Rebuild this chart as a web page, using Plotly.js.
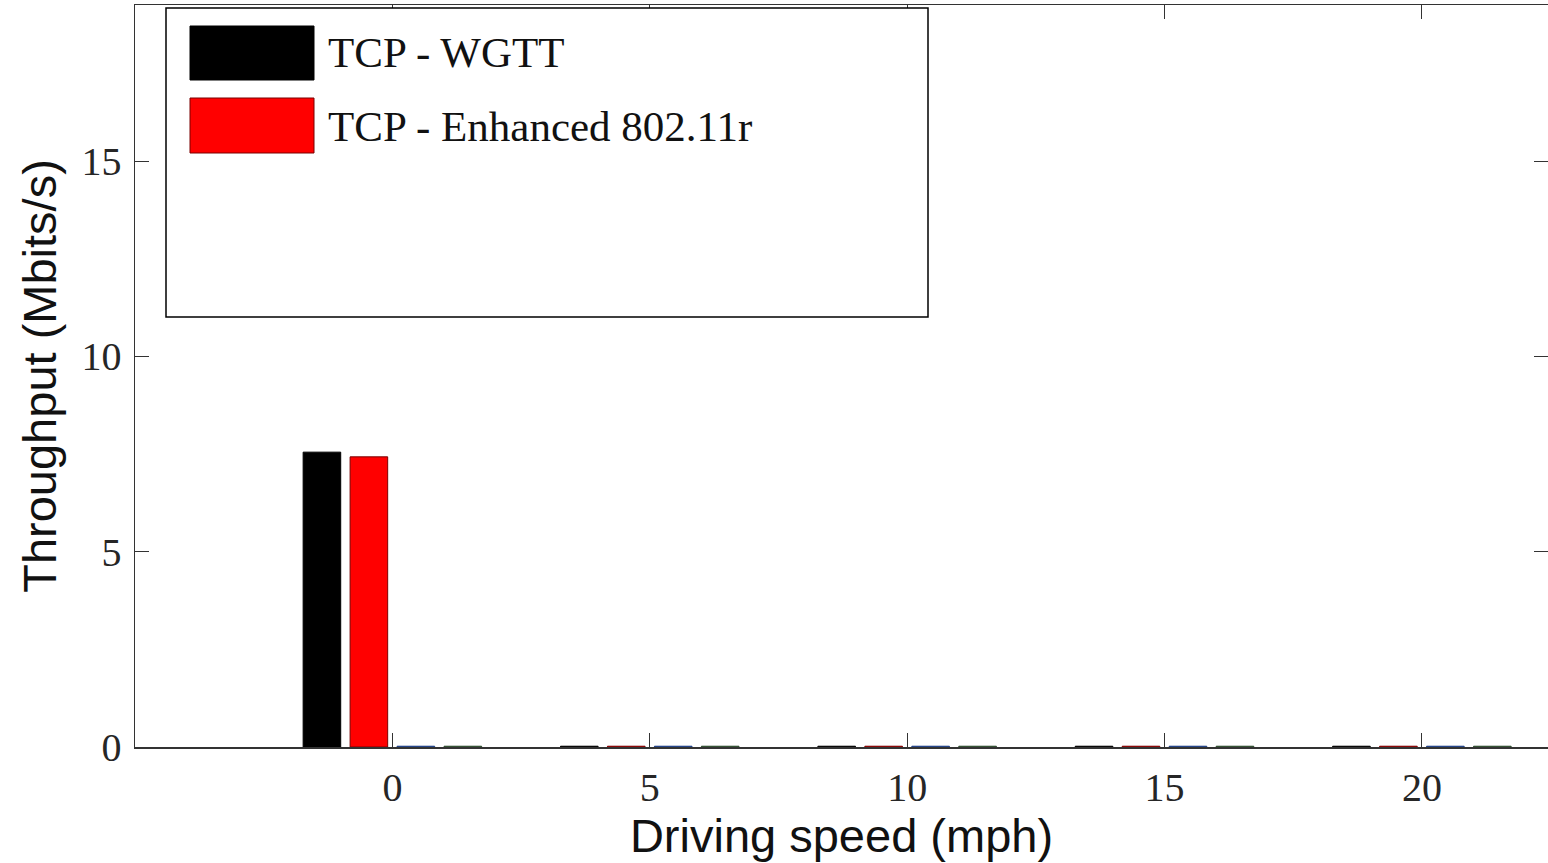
<!DOCTYPE html>
<html>
<head>
<meta charset="utf-8">
<script src="https://cdn.plot.ly/plotly-3.0.1.min.js"></script>
<style>html,body{margin:0;padding:0;background:#fff;}#chart{width:1548px;height:863px;}</style>
</head>
<body>
<div id="chart"></div>
<script>
// Data
const speeds = [0, 5, 10, 15, 20];
const wgtt = [7.55, 0.02, 0.02, 0.02, 0.02];
const enhanced = [7.43, 0.02, 0.02, 0.02, 0.02];
const seriesBlue = [0.02, 0.02, 0.02, 0.02, 0.02];
const seriesGreen = [0.02, 0.02, 0.02, 0.02, 0.02];
const seriesNames = ["TCP - WGTT", "TCP - Enhanced 802.11r", "", ""];
const xTicks = [0, 5, 10, 15, 20];
const yTicks = [0, 5, 10, 15];

const W = 1548, H = 863;
const M = {l: 135, r: 0, t: 5, b: 116};
const pw = W - M.l - M.r, ph = H - M.t - M.b;
const px = x => (x - M.l) / pw;
const py = y => (H - M.b - y) / ph;

function bar(y, fill, line, name) {
  return {type: 'bar', x: speeds, y: y, name: name, showlegend: false,
    marker: {color: fill, line: {color: line, width: 1}}, hoverinfo: 'x+y'};
}
const traces = [
  bar(wgtt, '#000000', '#000000', seriesNames[0]),
  bar(enhanced, '#ff0000', '#7a0000', seriesNames[1]),
  bar(seriesBlue, '#2050b0', '#1f3f80', 'Series 3'),
  bar(seriesGreen, '#2f6f2f', '#2f4a2f', 'Series 4')
];

const serif = '"Liberation Serif", "Times New Roman", serif';
const sans = '"Liberation Sans", Arial, sans-serif';

const shapes = [
  {type: 'rect', xref: 'paper', yref: 'paper', x0: px(166), x1: px(928), y0: py(317), y1: py(8),
   line: {color: '#000', width: 1.5}, fillcolor: '#fff', layer: 'above'},
  {type: 'rect', xref: 'paper', yref: 'paper', x0: px(190), x1: px(314), y0: py(80), y1: py(26),
   line: {color: '#000', width: 1}, fillcolor: '#000', layer: 'above'},
  {type: 'rect', xref: 'paper', yref: 'paper', x0: px(190), x1: px(314), y0: py(153), y1: py(98),
   line: {color: '#7a0000', width: 1}, fillcolor: '#ff0000', layer: 'above'}
];
const annotations = [
  {xref: 'paper', yref: 'paper', x: px(326), y: py(52), xanchor: 'left', yanchor: 'middle',
   text: seriesNames[0], showarrow: false, font: {family: serif, size: 43, color: '#111'}},
  {xref: 'paper', yref: 'paper', x: px(326), y: py(126), xanchor: 'left', yanchor: 'middle',
   text: seriesNames[1], showarrow: false, font: {family: serif, size: 43, color: '#111'}}
];

const layout = {
  width: W, height: H,
  margin: M,
  paper_bgcolor: '#fff', plot_bgcolor: '#fff',
  barmode: 'group', bargap: 0.27, bargroupgap: 0.2,
  showlegend: false,
  xaxis: {
    range: [-5, 22.45], tickvals: xTicks, ticktext: xTicks.map(String),
    ticks: 'inside', ticklen: 14, tickwidth: 1.2, tickcolor: '#333',
    showline: true, linecolor: '#333', linewidth: 1.5, mirror: 'ticks',
    showgrid: false, zeroline: false,
    tickfont: {family: serif, size: 40, color: '#262626'},
    ticklabelstandoff: 4,
    title: {text: 'Driving speed (mph)', font: {family: sans, size: 47, color: '#111'}, standoff: 2}
  },
  yaxis: {
    range: [0, 19], tickvals: yTicks, ticktext: yTicks.map(String),
    ticks: 'inside', ticklen: 14, tickwidth: 1.2, tickcolor: '#333',
    showline: true, linecolor: '#333', linewidth: 1.5, mirror: 'ticks',
    showgrid: false, zeroline: false,
    tickfont: {family: serif, size: 40, color: '#262626'},
    ticklabelstandoff: 4,
    title: {text: 'Throughput (Mbits/s)', font: {family: sans, size: 47, color: '#111'}, standoff: 10}
  },
  shapes: shapes,
  annotations: annotations
};

Plotly.newPlot('chart', traces, layout, {displayModeBar: false, staticPlot: true});
</script>
</body>
</html>
